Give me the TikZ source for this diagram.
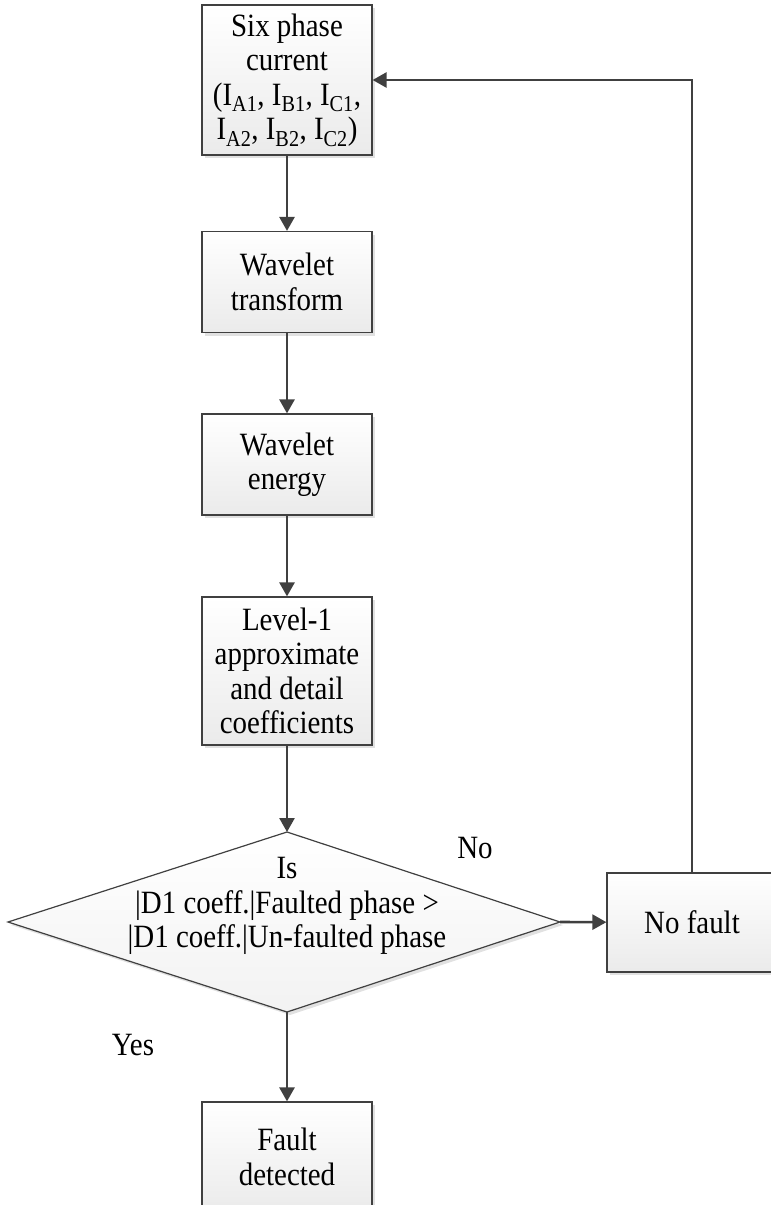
\documentclass[tikz,border=0pt]{standalone}
\usepackage{fontspec}
\setmainfont{Liberation Serif}[FakeStretch=0.89]
\usetikzlibrary{arrows.meta,shadows}
\definecolor{lc}{HTML}{404040}
\tikzset{
  fc/.style={font=\fontsize{32.5}{34.5}\selectfont},
  boxn/.style={draw=lc, line width=1.2pt, top color=white, bottom color=gray!16,
    drop shadow={shadow xshift=3pt, shadow yshift=-3pt, fill=gray!30, opacity=0.8},
    minimum width=170pt, align=center, inner sep=2pt, fc},
  conn/.style={draw=lc, line width=2.6pt, -{Triangle[length=14pt,width=15pt]}},
  lbl/.style={fc, inner sep=0pt}
}
\begin{document}
\begin{tikzpicture}[x=1pt,y=-1pt]
\useasboundingbox (0,0) rectangle (771,1205);
\clip (0,0) rectangle (771,1205);
\node[boxn, minimum height=150pt] (b1) at (287,80) {Six phase\\current\\(I\textsubscript{A1}, I\textsubscript{B1}, I\textsubscript{C1},\\I\textsubscript{A2}, I\textsubscript{B2}, I\textsubscript{C2})};
\node[boxn, minimum height=101pt] (b2) at (287,282) {Wavelet\\transform};
\node[boxn, minimum height=101pt] (b3) at (287,464.5) {Wavelet\\energy};
\node[boxn, minimum height=148pt] (b4) at (287,671) {Level-1\\approximate\\and detail\\coefficients};
\coordinate (dt) at (287,832);
\coordinate (dr) at (560,922);
\coordinate (db) at (287,1012);
\coordinate (dl) at (8,922);
\path[draw=lc, line width=1.2pt, top color=white, bottom color=gray!10,
  drop shadow={shadow xshift=3pt, shadow yshift=-3pt, fill=gray!30, opacity=0.8}]
  (dt) -- (dr) -- (db) -- (dl) -- cycle;
\node[fc, align=center] (dtext) at (287,906) {Is\\|D1 coeff.|Faulted phase >\\|D1 coeff.|Un-faulted phase};
\node[boxn, minimum height=99pt] (nf) at (692,922.5) {No fault};
\node[boxn, minimum height=110pt] (fd) at (287,1157) {Fault\\detected};
\node[lbl] (no) at (475,848) {No};
\node[lbl] (yes) at (133,1045) {Yes};
\draw[conn] (b1) -- (b2);
\draw[conn] (b2) -- (b3);
\draw[conn] (b3) -- (b4);
\draw[conn] (b4) -- (dt);
\draw[conn] (dr) -- (nf);
\draw[conn] (db) -- (fd);
\draw[conn] (nf.north) |- (b1.east);
\end{tikzpicture}
\end{document}
